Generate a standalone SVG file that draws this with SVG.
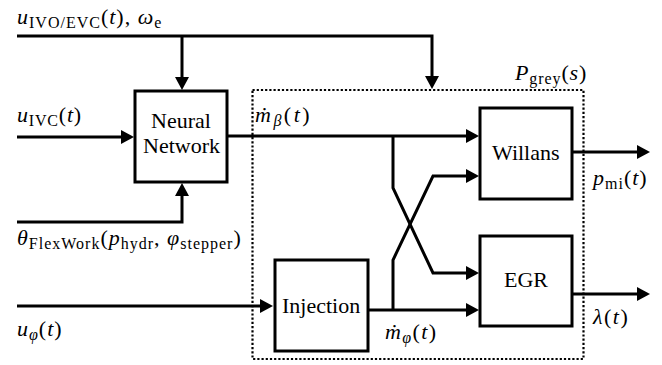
<svg xmlns="http://www.w3.org/2000/svg" width="662" height="365" viewBox="0 0 662 365" font-family="Liberation Serif, serif" font-size="21">
<defs>
<marker id="ah" markerUnits="userSpaceOnUse" markerWidth="13" markerHeight="14" refX="1" refY="7" orient="auto">
<path d="M0,0 L13,7 L0,14 z" fill="#000"/>
</marker>
</defs>
<rect width="662" height="365" fill="#fff"/>

<g id="pgrey">
<rect x="252.5" y="90" width="331" height="269" fill="none" stroke="#000" stroke-width="2.2" stroke-dasharray="2.2,2"/>
<text x="515" y="80" font-family="Liberation Serif, serif" font-size="22" letter-spacing="0.9"><tspan font-style="italic">P</tspan><tspan font-size="16" dy="4">grey</tspan><tspan dy="-4">(</tspan><tspan font-style="italic">s</tspan>)</text>
</g>

<g id="connectors" fill="none" stroke="#000" stroke-width="3" marker-end="url(#ah)">
<path d="M17,36 H432 V77"/>
<path d="M182,36 V78"/>
<path d="M17,137 H122"/>
<path d="M17,222 H182 V195"/>
<path d="M227,136 H467"/>
<path d="M393,136 V188 L433,273 H467"/>
<path d="M393,310 V260 L433,176 H467"/>
<path d="M17,306 H261"/>
<path d="M368,310 H467"/>
<path d="M572,152 H638"/>
<path d="M572,294 H638"/>
</g>

<g id="nn">
<rect x="135" y="91" width="92" height="91" fill="#fff" stroke="#000" stroke-width="3"/>
<text x="151" y="128" font-family="Liberation Serif, serif" font-size="22">Neural</text>
<text x="143" y="153" font-family="Liberation Serif, serif" font-size="22">Network</text>
</g>

<g id="willans">
<rect x="480" y="108" width="92" height="91" fill="#fff" stroke="#000" stroke-width="3"/>
<text x="492" y="160" font-family="Liberation Serif, serif" font-size="22">Willans</text>
</g>

<g id="egr">
<rect x="480" y="236" width="92" height="90" fill="#fff" stroke="#000" stroke-width="3"/>
<text x="504" y="287" font-family="Liberation Serif, serif" font-size="22">EGR</text>
</g>

<g id="injection">
<rect x="275" y="260" width="93" height="91" fill="#fff" stroke="#000" stroke-width="3"/>
<text x="282" y="313" font-family="Liberation Serif, serif" font-size="22">Injection</text>
</g>

<g id="labels" font-size="22">
<text x="17" y="24" letter-spacing="1"><tspan font-style="italic">u</tspan><tspan font-size="16" dy="4">IVO/EVC</tspan><tspan dy="-4">(</tspan><tspan font-style="italic">t</tspan>), <tspan font-style="italic">ω</tspan><tspan font-size="16" dy="4">e</tspan></text>
<text x="17" y="122" letter-spacing="0.8"><tspan font-style="italic">u</tspan><tspan font-size="16" dy="4">IVC</tspan><tspan dy="-4">(</tspan><tspan font-style="italic">t</tspan>)</text>
<text x="255" y="122" letter-spacing="2.5"><tspan font-style="italic">ṁ</tspan><tspan font-size="16" font-style="italic" dy="4">β</tspan><tspan dy="-4">(</tspan><tspan font-style="italic">t</tspan>)</text>
<text x="17" y="245" letter-spacing="1"><tspan font-style="italic">θ</tspan><tspan font-size="16" dy="4">FlexWork</tspan><tspan dy="-4">(</tspan><tspan font-style="italic">p</tspan><tspan font-size="16" dy="4">hydr</tspan><tspan dy="-4">, </tspan><tspan font-style="italic">φ</tspan><tspan font-size="16" dy="4">stepper</tspan><tspan dy="-4">)</tspan></text>
<text x="17" y="336" letter-spacing="1"><tspan font-style="italic">u</tspan><tspan font-size="16" font-style="italic" dy="4">φ</tspan><tspan dy="-4">(</tspan><tspan font-style="italic">t</tspan>)</text>
<text x="385" y="339" letter-spacing="1.4"><tspan font-style="italic">ṁ</tspan><tspan font-size="16" font-style="italic" dy="4">φ</tspan><tspan dy="-4">(</tspan><tspan font-style="italic">t</tspan>)</text>
<text x="593" y="185" letter-spacing="1"><tspan font-style="italic">p</tspan><tspan font-size="16" dy="4">mi</tspan><tspan dy="-4">(</tspan><tspan font-style="italic">t</tspan>)</text>
<text x="593" y="324" letter-spacing="1.5"><tspan font-style="italic">λ</tspan>(<tspan font-style="italic">t</tspan>)</text>
</g>
</svg>
